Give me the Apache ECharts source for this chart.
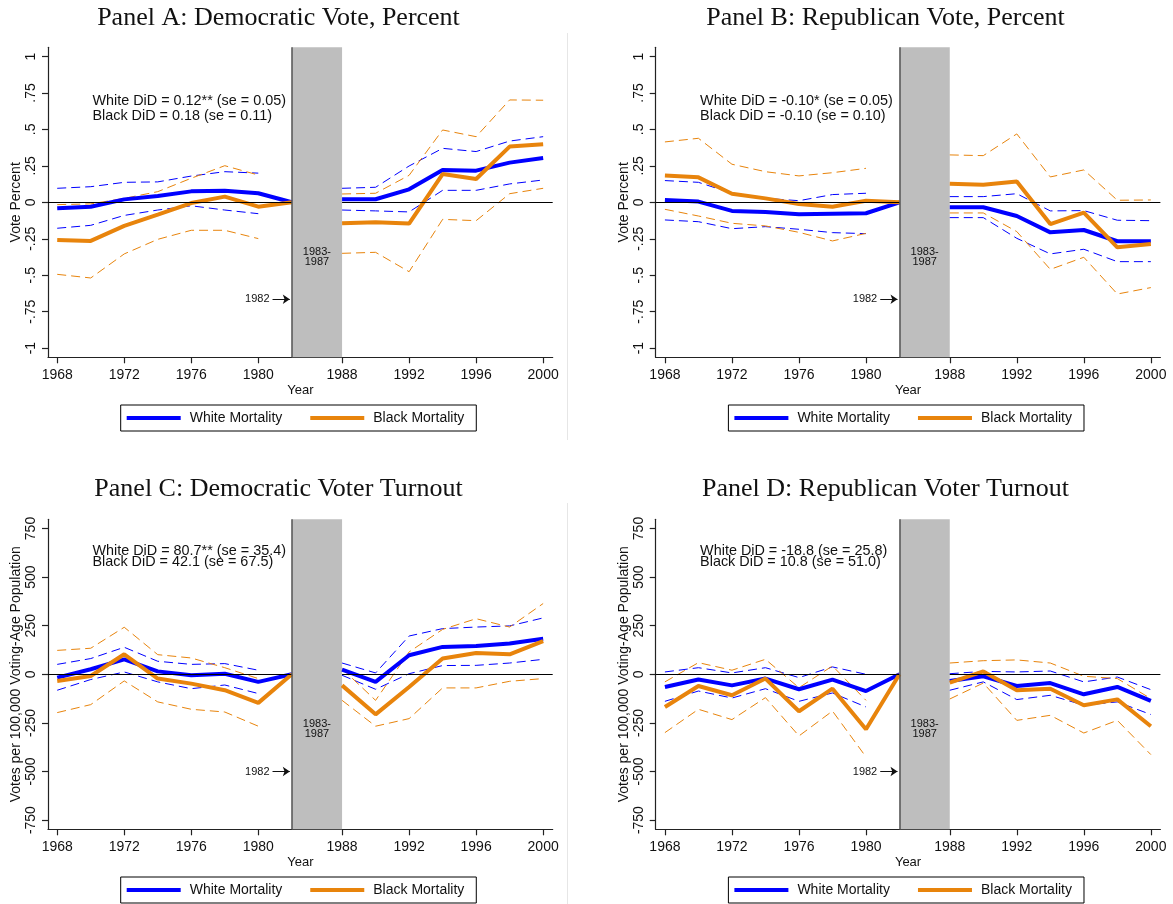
<!DOCTYPE html>
<html><head><meta charset="utf-8">
<script src="https://cdn.jsdelivr.net/npm/echarts@6/dist/echarts.min.js"></script>
<style>html,body{margin:0;padding:0;background:#fff}#c{width:1173px;height:904px}</style>
</head><body><div id="c"></div>
<script>
// ---------- data ----------
const yearsPre = [1968, 1970, 1972, 1974, 1976, 1978, 1980, 1982];
const yearsPost = [1988, 1990, 1992, 1994, 1996, 1998, 2000];
const xTickYears = [1968, 1972, 1976, 1980, 1988, 1992, 1996, 2000];
const pctTicks = [-1, -0.75, -0.5, -0.25, 0, 0.25, 0.5, 0.75, 1];
const voteTicks = [-750, -500, -250, 0, 250, 500, 750];

// values: 8 pre-period (1968..1982) then 7 post-period (1988..2000)
const whiteA   = [-0.041,-0.030,0.020,0.043,0.075,0.080,0.062,0,   0.021,0.021,0.089,0.222,0.217,0.272,0.304];
const whiteA_hi= [0.096,0.107,0.137,0.140,0.180,0.210,0.200,null,  0.096,0.103,0.249,0.370,0.348,0.420,0.450];
const whiteA_lo= [-0.178,-0.158,-0.090,-0.053,-0.024,-0.053,-0.078,null, -0.053,-0.059,-0.066,0.082,0.082,0.126,0.153];
const blackA   = [-0.258,-0.265,-0.162,-0.085,-0.005,0.039,-0.030,0, -0.144,-0.137,-0.146,0.194,0.160,0.382,0.398];
const blackA_hi= [-0.016,-0.011,0.027,0.073,0.165,0.251,0.187,null, 0.057,0.062,0.185,0.496,0.450,0.702,0.700];
const blackA_lo= [-0.494,-0.519,-0.354,-0.254,-0.192,-0.192,-0.249,null, -0.350,-0.343,-0.476,-0.117,-0.126,0.059,0.096];

const whiteB   = [0.016,0.005,-0.059,-0.066,-0.082,-0.078,-0.075,0, -0.034,-0.034,-0.094,-0.206,-0.190,-0.267,-0.267];
const whiteB_hi= [0.149,0.137,0.062,0.027,0.011,0.053,0.062,null, 0.039,0.039,0.059,-0.059,-0.057,-0.123,-0.126];
const whiteB_lo= [-0.121,-0.133,-0.181,-0.167,-0.185,-0.208,-0.215,null, -0.105,-0.105,-0.247,-0.354,-0.322,-0.407,-0.407];
const blackB   = [0.183,0.171,0.059,0.027,-0.011,-0.030,0.011,0, 0.128,0.121,0.142,-0.149,-0.071,-0.309,-0.286];
const blackB_hi= [0.414,0.439,0.261,0.210,0.181,0.203,0.233,null, 0.325,0.320,0.469,0.174,0.222,0.014,0.016];
const blackB_lo= [-0.048,-0.094,-0.144,-0.162,-0.206,-0.265,-0.213,null, -0.073,-0.073,-0.201,-0.460,-0.377,-0.629,-0.585];

const whiteC   = [-17,26,77,15,-5,3,-39,0, 24,-39,98,141,146,158,183];
const whiteC_hi= [51,81,139,67,51,55,21,null, 58,7,197,235,243,249,290];
const whiteC_lo= [-82,-27,12,-39,-74,-55,-99,null, -5,-77,3,45,46,58,77];
const blackC   = [-34,-9,103,-22,-48,-82,-147,0, -57,-206,-65,81,110,103,171];
const blackC_hi= [123,134,242,101,84,34,-22,null, 29,-134,115,231,286,243,364];
const blackC_lo= [-197,-156,-34,-142,-180,-194,-267,null, -134,-267,-228,-70,-70,-36,-22];

const whiteD   = [-65,-27,-57,-22,-77,-27,-86,0, -34,-10,-60,-45,-103,-65,-137];
const whiteD_hi= [12,34,7,34,-17,38,0,null, 3,15,12,17,-39,-14,-79];
const whiteD_lo= [-139,-86,-122,-74,-139,-96,-168,null, -82,-39,-130,-108,-159,-142,-207];
const blackD   = [-168,-60,-108,-22,-190,-74,-283,0, -43,15,-82,-74,-159,-129,-267];
const blackD_hi= [-39,60,21,77,-69,43,-134,null, 58,70,74,58,-10,-22,-125];
const blackD_lo= [-300,-180,-233,-120,-317,-189,-425,null, -127,-45,-237,-211,-302,-237,-413];

const titles = ['Panel A: Democratic Vote, Percent','Panel B: Republican Vote, Percent',
                'Panel C: Democratic Voter Turnout','Panel D: Republican Voter Turnout'];
const yNames = ['Vote Percent','Vote Percent',
                'Votes per 100,000 Voting-Age Population','Votes per 100,000 Voting-Age Population'];
const notes = [
  ['White DiD = 0.12** (se = 0.05)','Black DiD = 0.18 (se = 0.11)'],
  ['White DiD = -0.10* (se = 0.05)','Black DiD = -0.10 (se = 0.10)'],
  ['White DiD = 80.7** (se = 35.4)','Black DiD = 42.1 (se = 67.5)'],
  ['White DiD = -18.8 (se = 25.8)','Black DiD = 10.8 (se = 51.0)']
];
const legendNames = ['White Mortality','Black Mortality'];
const gapLabel = '1983-\n1987';
const arrowLabel = '1982';

// ---------- layout / style ----------
const SANS = '"Liberation Sans", Arial, Helvetica, sans-serif';
const SERIF = '"Liberation Serif", "Times New Roman", serif';
const BLUE = '#0000ff', ORANGE = '#e8840c', AX = '#222';
const panels = [
  {left:48,    top:47.3,  ymax:1.063, ticks:pctTicks,  noteY:[0.695,0.592], arrowY:-0.665, gapY:-0.375,
   series:[whiteA,whiteA_hi,whiteA_lo,blackA,blackA_hi,blackA_lo], tx:278.5, ty:18, lx:120.7, ly:405},
  {left:655.7, top:47.3,  ymax:1.063, ticks:pctTicks,  noteY:[0.695,0.592], arrowY:-0.665, gapY:-0.375,
   series:[whiteB,whiteB_hi,whiteB_lo,blackB,blackB_hi,blackB_lo], tx:885.5, ty:18, lx:728.4, ly:405},
  {left:48,    top:519.3, ymax:797.3, ticks:voteTicks, noteY:[633,575], arrowY:-500, gapY:-283,
   series:[whiteC,whiteC_hi,whiteC_lo,blackC,blackC_hi,blackC_lo], tx:278.5, ty:489, lx:120.7, ly:877},
  {left:655.7, top:519.3, ymax:797.3, ticks:voteTicks, noteY:[633,575], arrowY:-500, gapY:-283,
   series:[whiteD,whiteD_hi,whiteD_lo,blackD,blackD_hi,blackD_lo], tx:885.5, ty:489, lx:728.4, ly:877}
];
const X = y => (y <= 1982 ? y : y - 3);   // collapse 1983-1987 gap
const XMIN = 1967.45, XMAX = 1997.57;
const xTicks = xTickYears.map(X);

function pts(vals) {
  const out = [];
  yearsPre.forEach((y, i) => out.push([X(y), vals[i]]));
  out.push([1983.5, null]);
  yearsPost.forEach((y, i) => out.push([X(y), vals[8 + i]]));
  return out;
}
function fmtY(v) {
  if (v === 0) return '0';
  const a = Math.abs(v);
  let s = String(a);
  if (a < 1) s = s.replace(/^0/, '');
  return (v < 0 ? '-' : '') + s;
}

const grid = [], xAxis = [], yAxis = [], series = [], legend = [], graphic = [];
panels.forEach((p, i) => {
  grid.push({left:p.left, top:p.top, width:504.7, height:310});
  xAxis.push({
    gridIndex:i, type:'value', min:XMIN, max:XMAX,
    axisLine:{show:true, onZero:false, lineStyle:{color:AX, width:1.2}},
    splitLine:{show:false},
    axisTick:{show:true, length:6, customValues:xTicks, lineStyle:{color:AX, width:1.2}},
    axisLabel:{customValues:xTicks, formatter:v => String(v > 1982 ? v + 3 : v),
               fontSize:14, color:'#111', fontFamily:SANS, margin:10.5},
    name:'Year', nameLocation:'middle', nameGap:27,
    nameTextStyle:{fontSize:13, color:'#111', fontFamily:SANS}
  });
  yAxis.push({
    gridIndex:i, type:'value', min:-p.ymax, max:p.ymax,
    axisLine:{show:true, onZero:false, lineStyle:{color:AX, width:1.2}},
    splitLine:{show:false},
    axisTick:{show:true, length:6, customValues:p.ticks, lineStyle:{color:AX, width:1.2}},
    axisLabel:{customValues:p.ticks, rotate:90, formatter:fmtY,
               fontSize:14, color:'#111', fontFamily:SANS, margin:10},
    name:yNames[i], nameLocation:'middle', nameGap:25,
    nameTextStyle:{fontSize:14, color:'#111', fontFamily:SANS}
  });
  const [w, wh, wl, b, bh, bl] = p.series;
  const base = {type:'line', xAxisIndex:i, yAxisIndex:i, symbol:'none', showSymbol:false,
                connectNulls:false, silent:true, animation:false};
  const dashed = c => ({color:c, width:1, type:[9,5]});
  series.push(Object.assign({}, base, {
    name:'ci_w_hi_' + i, data:pts(wh), z:2, lineStyle:dashed(BLUE), itemStyle:{color:BLUE},
    markArea:{silent:true, itemStyle:{color:'#bebebe', opacity:1},
      data:[[{coord:[1982, -p.ymax]}, {coord:[1985, p.ymax]}]]},
    markLine:{silent:true, symbol:'none', animation:false, label:{show:false},
      lineStyle:{color:'#000', width:1, type:'solid'},
      data:[
        [{coord:[XMIN, 0]}, {coord:[1982, 0]}],
        [{coord:[1985, 0]}, {coord:[XMAX, 0]}],
        [{coord:[1982, -p.ymax], lineStyle:{color:'#555', width:1.5}}, {coord:[1982, p.ymax]}]
      ]}
  }));
  series.push(Object.assign({}, base, {name:'ci_w_lo_' + i, data:pts(wl), z:2, lineStyle:dashed(BLUE), itemStyle:{color:BLUE}}));
  series.push(Object.assign({}, base, {name:'ci_b_hi_' + i, data:pts(bh), z:2, lineStyle:dashed(ORANGE), itemStyle:{color:ORANGE}}));
  series.push(Object.assign({}, base, {name:'ci_b_lo_' + i, data:pts(bl), z:2, lineStyle:dashed(ORANGE), itemStyle:{color:ORANGE},
    markLine:{silent:true, symbol:['none','arrow'], symbolSize:7, animation:false,
      lineStyle:{color:'#111', width:1, type:'solid'},
      label:{show:true, position:'start', formatter:arrowLabel, fontSize:11, color:'#111', fontFamily:SANS, distance:3},
      data:[[{coord:[1980.85, p.arrowY]}, {coord:[1981.88, p.arrowY]}]]}
  }));
  series.push(Object.assign({}, base, {name:legendNames[0], data:pts(w), z:3,
    lineStyle:{color:BLUE, width:4}, itemStyle:{color:BLUE}}));
  series.push(Object.assign({}, base, {name:legendNames[1], data:pts(b), z:4,
    lineStyle:{color:ORANGE, width:4}, itemStyle:{color:ORANGE},
    markPoint:{silent:true, symbol:'rect', symbolSize:0, animation:false,
      data:[
        {coord:[1970.1, p.noteY[0]], label:{show:true, position:'right', distance:0, formatter:notes[i][0],
          fontSize:14.4, color:'#111', fontFamily:SANS}},
        {coord:[1970.1, p.noteY[1]], label:{show:true, position:'right', distance:0, formatter:notes[i][1],
          fontSize:14.4, color:'#111', fontFamily:SANS}},
        {coord:[1983.5, p.gapY], label:{show:true, position:'inside', formatter:gapLabel,
          fontSize:11, lineHeight:10, align:'center', color:'#111', fontFamily:SANS}}
      ]}
  }));
  legend.push({
    left:p.lx, top:p.ly, orient:'horizontal', data:legendNames, icon:'rect',
    itemWidth:54, itemHeight:4, itemGap:28, padding:[6,12,6,6],
    borderColor:'#000', borderWidth:1, borderRadius:0, selectedMode:false,
    textStyle:{fontSize:14, fontFamily:SANS, color:'#111', padding:[0,0,0,4]}
  });
  graphic.push({type:'text', x:p.tx, y:p.ty, silent:true,
    style:{text:titles[i], font:'26px ' + SERIF, fill:'#111', align:'center', verticalAlign:'middle'}});
});
// faint panel borders
graphic.push({type:'line', silent:true, shape:{x1:567.5, y1:33, x2:567.5, y2:440}, style:{stroke:'#e6e6e6', lineWidth:1}});
graphic.push({type:'line', silent:true, shape:{x1:567.5, y1:503, x2:567.5, y2:904}, style:{stroke:'#e6e6e6', lineWidth:1}});

const chart = echarts.init(document.getElementById('c'), null, {renderer:'canvas'});
chart.setOption({
  animation:false, backgroundColor:'#fff',
  textStyle:{fontFamily:SANS},
  grid, xAxis, yAxis, series, legend, graphic
});
</script></body></html>
